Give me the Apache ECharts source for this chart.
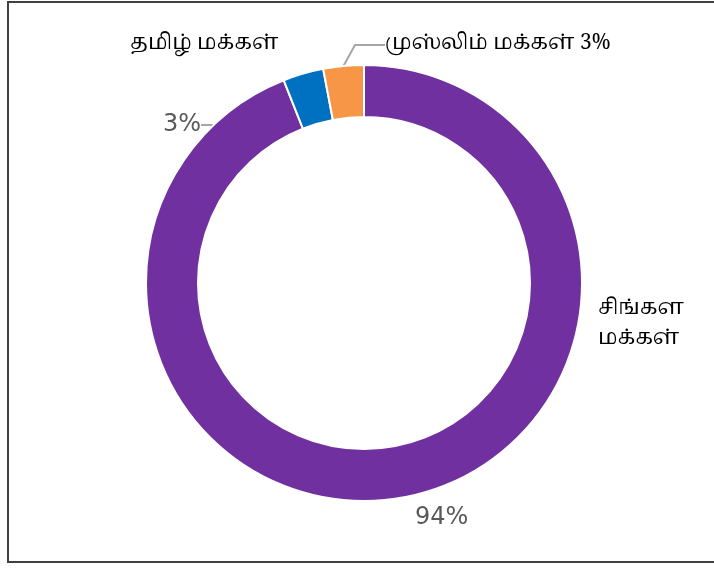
<!DOCTYPE html>
<html>
<head>
<meta charset="utf-8">
<title>மக்கள் தொகை</title>
<script src="https://cdn.jsdelivr.net/npm/echarts@6.0.0/dist/echarts.min.js"></script>
<style>
  html, body { margin: 0; padding: 0; background: #fff; }
  #chart { width: 714px; height: 570px; }
</style>
</head>
<body>
<div id="chart"></div>
<script>
// data
var groups = ['சிங்கள மக்கள்', 'தமிழ் மக்கள்', 'முஸ்லிம் மக்கள்'];
var shares = [94, 3, 3];
var colors = ['#7030A0', '#0070C0', '#F79646'];

var pieData = groups.map(function (g, i) {
    return { name: g, value: shares[i], itemStyle: { color: colors[i] } };
});

var chart = echarts.init(document.getElementById('chart'));
var tamilFont = '"Noto Serif Tamil", "Latha", "Noto Sans Tamil", serif';

var option = {
    animation: false,
    graphic: [{
        type: 'rect',
        shape: { x: 8, y: 2, width: 720, height: 560 },
        style: { fill: 'none', stroke: '#404040', lineWidth: 2 }
    }],
    series: [
        {
            // ring + percent labels
            type: 'pie',
            center: [364, 283],
            radius: [166, 218],
            startAngle: 90,
            clockwise: true,
            itemStyle: { borderColor: '#fff', borderWidth: 2 },
            label: {
                show: true,
                formatter: function (p) {
                    if (p.dataIndex === 2) return '{n|' + p.name + ' ' + p.value + '%}';
                    return p.value + '%';
                },
                color: '#595959',
                fontFamily: 'DejaVu Sans',
                fontSize: 24,
                rich: {
                    n: { color: '#000', fontFamily: tamilFont, fontSize: 21 }
                }
            },
            labelLine: { show: true, lineStyle: { color: '#A6A6A6', width: 2 } },
            labelLayout: function (p) {
                if (p.dataIndex === 0) return { x: 415, y: 518, align: 'left', verticalAlign: 'middle' };
                if (p.dataIndex === 1) return { x: 163, y: 125, align: 'left', verticalAlign: 'middle' };
                return { x: 385, y: 45, align: 'left', verticalAlign: 'middle' };
            },
            data: pieData.map(function (d, i) {
                var o = Object.assign({}, d);
                if (i === 0) o.labelLine = { show: false };
                return o;
            })
        },
        {
            // name labels only
            type: 'pie',
            silent: true,
            center: [364, 283],
            radius: [166, 218],
            startAngle: 90,
            clockwise: true,
            label: {
                show: true,
                formatter: function (p) {
                    if (p.dataIndex === 0) return 'சிங்கள\nமக்கள்';
                    if (p.dataIndex === 1) return p.name;
                    return '';
                },
                color: '#000',
                fontFamily: tamilFont,
                fontSize: 21,
                lineHeight: 30
            },
            labelLine: { show: false },
            labelLayout: function (p) {
                if (p.dataIndex === 0) return { x: 598, y: 325, align: 'left', verticalAlign: 'middle' };
                return { x: 130, y: 45, align: 'left', verticalAlign: 'middle' };
            },
            data: groups.map(function (g, i) {
                return { name: g, value: shares[i], itemStyle: { color: 'rgba(0,0,0,0)', borderWidth: 0 } };
            })
        }
    ]
};
option && chart.setOption(option);
</script>
</body>
</html>
